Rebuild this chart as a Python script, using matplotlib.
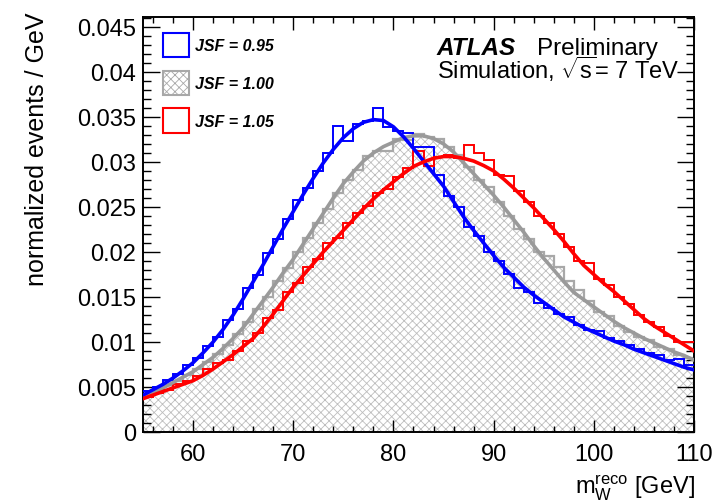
import matplotlib
matplotlib.use("Agg")
import matplotlib.pyplot as plt
from matplotlib.patches import Patch
from matplotlib.ticker import MultipleLocator, FuncFormatter
import numpy as np

plt.rcParams['font.family'] = ['Liberation Sans', 'DejaVu Sans']
plt.rcParams['mathtext.fontset'] = 'custom'
plt.rcParams['mathtext.rm'] = 'Liberation Sans'
plt.rcParams['mathtext.it'] = 'Liberation Sans:italic'
plt.rcParams['hatch.linewidth'] = 0.6

# bin edges 55..110 GeV, 1 GeV bins
edges = list(range(55, 111))
fit_x = list(range(55, 111))

# histogram contents, JSF = 0.95 / 1.00 / 1.05
h095 = [0.0046, 0.0050, 0.0058, 0.0064, 0.0074, 0.0082, 0.0095, 0.0105, 0.0124, 0.0137,
        0.0160, 0.0174, 0.0199, 0.0214, 0.0237, 0.0258, 0.0271, 0.0290, 0.0310, 0.0340,
        0.0323, 0.0342, 0.0345, 0.0360, 0.0339, 0.0334, 0.0332, 0.0317, 0.0317, 0.0285,
        0.0262, 0.0250, 0.0228, 0.0218, 0.0200, 0.0190, 0.0176, 0.0160, 0.0156, 0.0143,
        0.0138, 0.0131, 0.0128, 0.0119, 0.0113, 0.0112, 0.0104, 0.0101, 0.0097, 0.0092,
        0.0088, 0.0085, 0.0080, 0.0081, 0.0074]
h100 = [0.0042, 0.0046, 0.0052, 0.0057, 0.0063, 0.0070, 0.0078, 0.0087, 0.0097, 0.0109,
        0.0122, 0.0137, 0.0150, 0.0168, 0.0182, 0.0200, 0.0216, 0.0232, 0.0248, 0.0265,
        0.0280, 0.0291, 0.0307, 0.0312, 0.0312, 0.0325, 0.0324, 0.0331, 0.0328, 0.0325,
        0.0317, 0.0308, 0.0294, 0.0280, 0.0272, 0.0256, 0.0240, 0.0226, 0.0214, 0.0200,
        0.0196, 0.0183, 0.0168, 0.0158, 0.0146, 0.0133, 0.0129, 0.0118, 0.0111, 0.0106,
        0.0102, 0.0094, 0.0092, 0.0086, 0.0082]
h105 = [0.0039, 0.0043, 0.0047, 0.0053, 0.0057, 0.0062, 0.0070, 0.0077, 0.0080, 0.0090,
        0.0101, 0.0110, 0.0127, 0.0136, 0.0155, 0.0165, 0.0183, 0.0192, 0.0210, 0.0215,
        0.0232, 0.0243, 0.0251, 0.0265, 0.0270, 0.0283, 0.0293, 0.0312, 0.0295, 0.0305,
        0.0308, 0.0304, 0.0319, 0.0310, 0.0302, 0.0285, 0.0284, 0.0268, 0.0255, 0.0240,
        0.0232, 0.0220, 0.0205, 0.0190, 0.0188, 0.0170, 0.0163, 0.0150, 0.0142, 0.0130,
        0.0122, 0.0117, 0.0107, 0.0100, 0.0100]

# fitted templates read at integer masses
f095 = [0.0041, 0.0047, 0.0053, 0.0060, 0.0068, 0.0077, 0.0088, 0.0100, 0.0114, 0.0130,
        0.0148, 0.0167, 0.0186, 0.0206, 0.0226, 0.0245, 0.0264, 0.0282, 0.0299, 0.0314,
        0.0327, 0.0337, 0.0344, 0.0347, 0.0346, 0.0339, 0.0328, 0.0315, 0.0301, 0.0287,
        0.0273, 0.0256, 0.0239, 0.0224, 0.0210, 0.0196, 0.0183, 0.0172, 0.0161, 0.0152,
        0.0144, 0.0136, 0.0128, 0.0122, 0.0116, 0.0111, 0.0106, 0.0101, 0.0097, 0.0092,
        0.0088, 0.0084, 0.0080, 0.0076, 0.0072, 0.0069]
f100 = [0.0040, 0.0044, 0.0049, 0.0055, 0.0061, 0.0067, 0.0075, 0.0083, 0.0093, 0.0104,
        0.0116, 0.0131, 0.0146, 0.0161, 0.0177, 0.0192, 0.0209, 0.0226, 0.0243, 0.0260,
        0.0276, 0.0289, 0.0301, 0.0310, 0.0317, 0.0322, 0.0327, 0.0329, 0.0329, 0.0326,
        0.0320, 0.0311, 0.0299, 0.0287, 0.0275, 0.0263, 0.0250, 0.0236, 0.0222, 0.0207,
        0.0193, 0.0180, 0.0167, 0.0155, 0.0147, 0.0139, 0.0131, 0.0123, 0.0116, 0.0110,
        0.0104, 0.0099, 0.0094, 0.0089, 0.0085, 0.0080]
f105 = [0.0037, 0.0041, 0.0045, 0.0049, 0.0053, 0.0057, 0.0063, 0.0070, 0.0078, 0.0086,
        0.0095, 0.0104, 0.0117, 0.0131, 0.0146, 0.0161, 0.0174, 0.0187, 0.0200, 0.0212,
        0.0224, 0.0236, 0.0248, 0.0259, 0.0269, 0.0278, 0.0287, 0.0295, 0.0300, 0.0304,
        0.0306, 0.0306, 0.0304, 0.0301, 0.0296, 0.0290, 0.0281, 0.0271, 0.0260, 0.0249,
        0.0237, 0.0225, 0.0212, 0.0198, 0.0185, 0.0175, 0.0165, 0.0156, 0.0146, 0.0136,
        0.0126, 0.0118, 0.0111, 0.0104, 0.0097, 0.0090]

labels = ["JSF = 0.95", "JSF = 1.00", "JSF = 1.05"]
blue = "#0000ff"
red = "#ff0000"
grey = "#9a9a9a"

W, H = 715, 502
fig = plt.figure(figsize=(W / 100, H / 100), dpi=100)
ax = fig.add_axes([143 / W, 1 - 433 / H, (694 - 143) / W, (433 - 18) / H])

ax.stairs(h100, edges, baseline=0, fill=True, hatch='xxxx', facecolor='white',
          edgecolor='#bdbdbd', linewidth=0, zorder=1)
ax.stairs(h100, edges, baseline=None, color='#a8a8a8', linewidth=1.6, zorder=2)
ax.stairs(h095, edges, baseline=None, color=blue, linewidth=1.4, zorder=3)
ax.stairs(h105, edges, baseline=None, color=red, linewidth=1.4, zorder=3)
ax.plot(fit_x, f100, color=grey, linewidth=2.6, zorder=4)
ax.plot(fit_x, f095, color=blue, linewidth=2.6, zorder=4)
ax.plot(fit_x, f105, color=red, linewidth=2.6, zorder=4)

ax.set_xlim(55, 110)
ax.set_ylim(0, 0.0461)
ax.xaxis.set_major_locator(MultipleLocator(10))
ax.xaxis.set_minor_locator(MultipleLocator(2))
ax.yaxis.set_major_locator(MultipleLocator(0.005))
ax.yaxis.set_minor_locator(MultipleLocator(0.001))
ax.yaxis.set_major_formatter(FuncFormatter(lambda v, p: "%g" % round(v, 4)))
ax.tick_params(which='both', direction='in', top=True, right=True, labelsize=17, width=1)
ax.tick_params(axis='x', which='major', length=9, pad=8)
ax.tick_params(axis='x', which='minor', length=4.5)
ax.tick_params(axis='y', which='major', length=12, pad=5)
ax.tick_params(axis='y', which='minor', length=6)
for s in ax.spines.values():
    s.set_linewidth(1.4)

fig.text(37 / W, 1 - 13 / H, "normalized events / GeV", rotation=90,
         ha='center', va='top', fontsize=18)
fig.text(695 / W, 1 - 488 / H, r"$\mathrm{m_{W}^{reco}}$ [GeV]", ha='right',
         va='center', fontsize=17)

fig.text(437 / W, 1 - 55 / H, "ATLAS", fontsize=17.5, weight='bold', style='italic',
         va='baseline')
fig.text(537 / W, 1 - 55 / H, "Preliminary", fontsize=17.5, va='baseline')
fig.text(437 / W, 1 - 79 / H, r"Simulation, $\sqrt{\mathrm{s}}$= 7 TeV", fontsize=17,
         va='baseline')

handles = [Patch(facecolor='white', edgecolor=blue, linewidth=1.5),
           Patch(facecolor='white', edgecolor='#a8a8a8', hatch='xxxx', linewidth=1.5),
           Patch(facecolor='white', edgecolor=red, linewidth=1.5)]
leg = fig.legend(handles, labels, loc='upper left', bbox_to_anchor=(163 / W, 1 - 34 / H),
                 frameon=False, borderpad=0, handlelength=1.6, handleheight=1.95,
                 labelspacing=0.85, handletextpad=0.4, borderaxespad=0,
                 prop={'size': 11.5, 'weight': 'bold', 'style': 'italic'})

fig.savefig("out.png", dpi=100)
